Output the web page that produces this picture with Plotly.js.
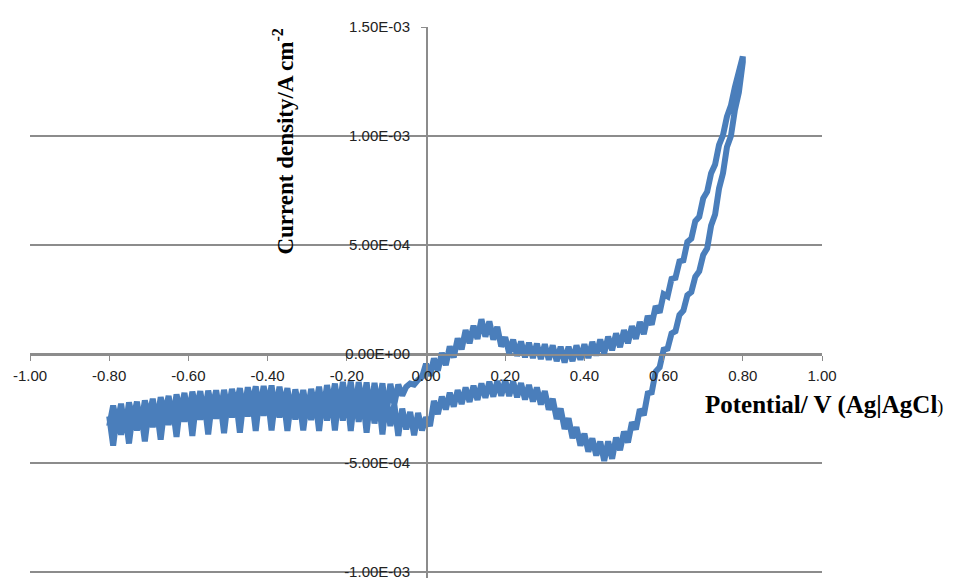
<!DOCTYPE html>
<html>
<head>
<meta charset="utf-8">
<script src="https://cdn.plot.ly/plotly-3.0.1.min.js"></script>
<style>html,body{margin:0;padding:0;background:#fff;}#chart{width:965px;height:578px;}</style>
</head>
<body>
<div id="chart"></div>
<script>
// Scan potential (V vs Ag|AgCl), ascending
const potential = [
-0.80,-0.79,-0.78,-0.77,-0.76,-0.75,-0.74,-0.73,-0.72,-0.71,
-0.70,-0.69,-0.68,-0.67,-0.66,-0.65,-0.64,-0.63,-0.62,-0.61,
-0.60,-0.59,-0.58,-0.57,-0.56,-0.55,-0.54,-0.53,-0.52,-0.51,
-0.50,-0.49,-0.48,-0.47,-0.46,-0.45,-0.44,-0.43,-0.42,-0.41,
-0.40,-0.39,-0.38,-0.37,-0.36,-0.35,-0.34,-0.33,-0.32,-0.31,
-0.30,-0.29,-0.28,-0.27,-0.26,-0.25,-0.24,-0.23,-0.22,-0.21,
-0.20,-0.19,-0.18,-0.17,-0.16,-0.15,-0.14,-0.13,-0.12,-0.11,
-0.10,-0.09,-0.08,-0.07,-0.06,-0.05,-0.04,-0.03,-0.02,-0.01,
0.00,0.01,0.02,0.03,0.04,0.05,0.06,0.07,0.08,0.09,
0.10,0.11,0.12,0.13,0.14,0.15,0.16,0.17,0.18,0.19,
0.20,0.21,0.22,0.23,0.24,0.25,0.26,0.27,0.28,0.29,
0.30,0.31,0.32,0.33,0.34,0.35,0.36,0.37,0.38,0.39,
0.40,0.41,0.42,0.43,0.44,0.45,0.46,0.47,0.48,0.49,
0.50,0.51,0.52,0.53,0.54,0.55,0.56,0.57,0.58,0.59,
0.60,0.61,0.62,0.63,0.64,0.65,0.66,0.67,0.68,0.69,
0.70,0.71,0.72,0.73,0.74,0.75,0.76,0.77,0.78,0.79,
0.80];

// Anodic (forward) scan current density, µA cm^-2, at each potential above (noisy trace)
const forwardCurrent_uA = [
-330,-236,-320,-228,-345,-222,-300,-218,-330,-212,
-290,-205,-318,-198,-275,-192,-300,-185,-268,-178,
-285,-172,-255,-170,-280,-168,-250,-166,-275,-164,
-262,-160,-240,-156,-270,-152,-236,-148,-262,-146,
-240,-144,-268,-150,-245,-156,-275,-162,-250,-165,
-270,-160,-245,-150,-268,-142,-240,-135,-262,-128,
-238,-126,-265,-128,-242,-130,-270,-132,-248,-134,
-275,-136,-230,-140,-190,-150,-135,-140,-118,-105,
-45,-100,-20,-75,5,-50,35,-15,72,22,
110,50,130,70,160,80,150,66,125,35,
78,5,66,-8,58,-14,52,-18,48,-22,
45,-26,40,-32,34,-38,34,-32,40,-26,
45,-18,56,-6,67,4,80,18,95,32,
110,50,128,70,148,92,175,135,220,190,
275,265,345,350,425,430,515,530,610,630,
715,745,830,870,960,1005,1090,1140,1225,1285,
1365];

// Cathodic (reverse) scan current density, µA cm^-2, at each potential above (noisy trace)
const reverseCurrent_uA = [
-285,-420,-275,-370,-272,-410,-265,-350,-262,-400,
-255,-335,-250,-392,-242,-325,-235,-380,-225,-310,
-218,-375,-216,-300,-214,-368,-212,-296,-210,-362,
-209,-290,-205,-360,-200,-286,-196,-352,-193,-282,
-190,-350,-195,-290,-200,-352,-205,-300,-208,-350,
-209,-302,-200,-352,-192,-305,-186,-350,-183,-305,
-181,-352,-185,-310,-190,-360,-194,-318,-197,-368,
-200,-330,-230,-375,-250,-345,-265,-372,-270,-350,
-290,-330,-215,-275,-195,-254,-177,-241,-165,-229,
-153,-219,-145,-210,-135,-200,-127,-195,-123,-191,
-120,-192,-125,-198,-133,-208,-142,-217,-153,-231,
-170,-255,-205,-297,-250,-343,-295,-385,-335,-420,
-365,-447,-387,-465,-401,-490,-400,-480,-383,-440,
-355,-405,-313,-345,-253,-280,-180,-175,-80,-60,
20,25,95,105,180,200,270,285,355,380,
455,485,590,640,760,830,950,1000,1120,1200,
1340];

const xTickVals = [-1.0,-0.8,-0.6,-0.4,-0.2,0.0,0.2,0.4,0.6,0.8,1.0];
const xTickText = ['-1.00','-0.80','-0.60','-0.40','-0.20','0.00','0.20','0.40','0.60','0.80','1.00'];
const yTickVals = [-0.001,-0.0005,0,0.0005,0.001,0.0015];
const yTickText = ['-1.00E-03','-5.00E-04','0.00E+00','5.00E-04','1.00E-03','1.50E-03'];

const xs = potential.concat(potential.slice().reverse());
const ys = forwardCurrent_uA.concat(reverseCurrent_uA.slice().reverse()).map(v => v * 1e-6);

const trace = {
  x: xs, y: ys, type: 'scatter', mode: 'lines',
  line: {color: '#4a7ebb', width: 6},
  hoverinfo: 'skip', showlegend: false
};

const tickFont = {family: 'Liberation Sans', size: 15, color: '#222'};
const yMin = -0.001027, yMax = 0.0015006;

const layout = {
  width: 965, height: 578,
  margin: {l: 30, r: 143, t: 27, b: 0},
  paper_bgcolor: '#fff', plot_bgcolor: '#fff',
  showlegend: false,
  xaxis: {
    range: [-1, 1], anchor: 'free', position: (0 - yMin) / (yMax - yMin),
    tickvals: xTickVals, ticktext: xTickText,
    showgrid: false, zeroline: false,
    showline: true, linecolor: '#8c8c8c', linewidth: 1.5,
    ticks: 'outside', ticklen: 5, tickcolor: '#8c8c8c', tickwidth: 1,
    tickfont: tickFont, ticklabelstandoff: 2, ticklabeloverflow: 'allow'
  },
  yaxis: {
    range: [yMin, yMax], anchor: 'free', position: 0.5,
    tickvals: yTickVals, ticktext: yTickText,
    showgrid: true, gridcolor: '#8c8c8c', gridwidth: 1.5,
    zeroline: false,
    showline: true, linecolor: '#8c8c8c', linewidth: 1.5,
    ticks: 'outside', ticklen: 5, tickcolor: '#8c8c8c',
    tickfont: tickFont, ticklabelstandoff: 8, ticklabeloverflow: 'allow'
  },
  annotations: [
    {
      text: '<b>Current density/A cm<sup>-2</sup></b>',
      xref: 'paper', yref: 'paper', x: 0.3207, y: (0.000975 - yMin) / (yMax - yMin),
      xanchor: 'center', yanchor: 'middle', textangle: -90, showarrow: false,
      font: {family: 'Liberation Serif', size: 23, color: '#000'}
    },
    {
      text: '<b>Potential/ V (Ag|AgCl</b><span style="font-size:18px">)</span>',
      xref: 'paper', yref: 'paper', x: 0.85, y: (-0.000232 - yMin) / (yMax - yMin),
      xanchor: 'left', yanchor: 'middle', showarrow: false,
      font: {family: 'Liberation Serif', size: 25, color: '#000'}
    }
  ]
};

Plotly.newPlot('chart', [trace], layout, {displayModeBar: false, staticPlot: true});
</script>
</body>
</html>
